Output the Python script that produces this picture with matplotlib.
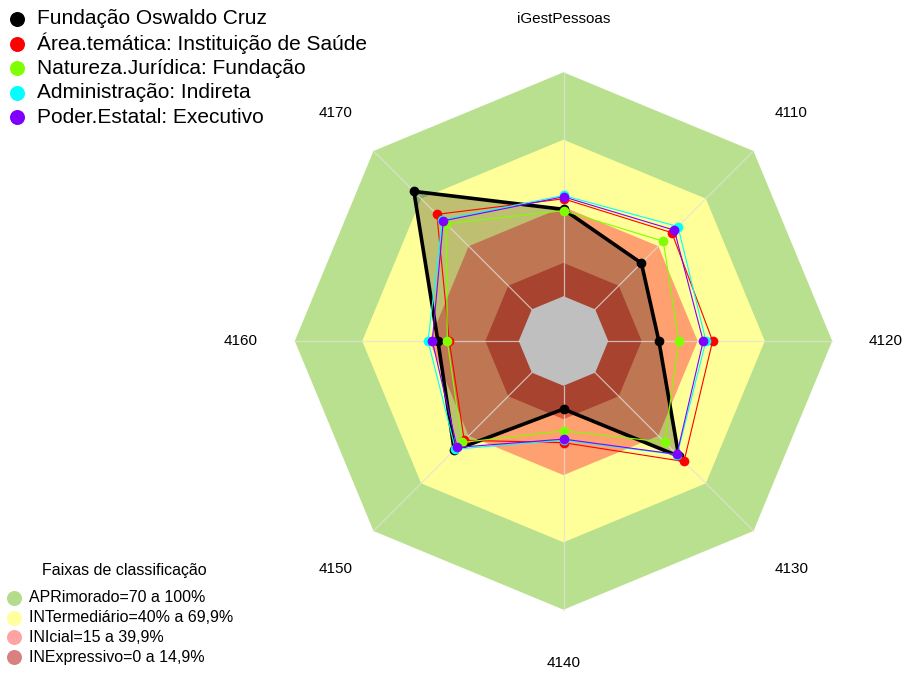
"""
Radar chart iGestPessoas with classification bands
"""
import numpy as np
import matplotlib
matplotlib.use("Agg")
import matplotlib.pyplot as plt

plt.rcParams['font.family'] = ['Liberation Sans', 'DejaVu Sans']

# axes, clockwise from the top
eixos = ['iGestPessoas', '4110', '4120', '4130', '4140', '4150', '4160', '4170']

# series values (%)
fiocruz = [38.8, 29.2, 22.6, 52.8, 10.4, 49.0, 36.1, 74.5]
area_tematica = [43.5, 48.4, 46.6, 56.1, 25.4, 42.7, 31.0, 60.0]
natureza = [38.2, 43.0, 31.5, 43.9, 20.1, 44.1, 31.9, 54.1]
administracao = [45.0, 52.3, 43.6, 51.8, 24.3, 48.3, 40.5, 56.5]
poder = [44.4, 50.0, 42.4, 51.6, 23.8, 47.2, 38.6, 55.9]

series_nomes = ['Fundação Oswaldo Cruz', 'Área.temática: Instituição de Saúde',
                'Natureza.Jurídica: Fundação', 'Administração: Indireta',
                'Poder.Estatal: Executivo']
series_cores = ['black', '#FF0000', '#80FF00', '#00FFFF', '#8000FF']

# classification bands (upper limits, %)
faixas_lim = [100, 69.9, 39.9, 14.9]
faixas_cores = ['#B9E08E', '#FFFF99', '#FFA070', '#E05A3E']
faixas_nomes = ['APRimorado=70 a 100%', 'INTermediário=40% a 69,9%',
                'INIcial=15 a 39,9%', 'INExpressivo=0 a 14,9%']
faixas_leg_cores = ['#B5DC8C', '#FFFFA0', '#FFA3A3', '#D98080']

W, H = 905, 673
CX, CY, R = 563.5, 341.0, 268.7
HOLE = 1 / 6.0

n = len(eixos)
ang = np.pi / 2 - np.arange(n) * 2 * np.pi / n


def rad(v):
    return HOLE + (1 - HOLE) * np.asarray(v, dtype=float) / 100.0


def xy(vals):
    r = rad(vals)
    x = r * np.cos(ang)
    y = r * np.sin(ang)
    return np.append(x, x[0]), np.append(y, y[0])


fig = plt.figure(figsize=(W / 100, H / 100), dpi=100)
ax = fig.add_axes([0, 0, 1, 1])
ax.set_xlim(-CX / R, (W - CX) / R)
ax.set_ylim(-(H - CY) / R, CY / R)
ax.set_aspect('equal')
ax.axis('off')

# bands
for lim, cor in zip(faixas_lim, faixas_cores):
    x, y = xy([lim] * n)
    ax.fill(x, y, color=cor, lw=0, zorder=1)
x, y = xy([0] * n)
ax.fill(x, y, color='white', lw=0, zorder=1)

# black series fill
x, y = xy(fiocruz)
ax.fill(x, y, color='black', alpha=0.25, lw=0, zorder=2)

# radial axis lines
for a in ang:
    ax.plot([HOLE * np.cos(a), np.cos(a)], [HOLE * np.sin(a), np.sin(a)],
            color='#E0E0E0', lw=0.9, alpha=0.75, zorder=3)

# axis labels
for a, lab in zip(ang, eixos):
    ax.text(1.2 * np.cos(a), 1.2 * np.sin(a), lab, ha='center', va='center',
            fontsize=11)

# series
dados = [fiocruz, area_tematica, natureza, administracao, poder]
for i, (vals, cor) in enumerate(zip(dados, series_cores)):
    x, y = xy(vals)
    lw = 2.6 if i == 0 else 0.8
    ax.plot(x, y, color=cor, lw=lw, zorder=4 + i)
    ax.plot(x[:-1], y[:-1], 'o', color=cor, ms=7, mec='none', zorder=4 + i)


def fx(px):
    return px / W


def fy(py):
    return 1 - py / H


# top legend
for k, (nome, cor) in enumerate(zip(series_nomes, series_cores)):
    yy = 19 + k * 24.6
    fig.lines.append(plt.Line2D([fx(17.3)], [fy(yy)], marker='o', color=cor,
                                ms=10.8, mec='none', transform=fig.transFigure))
    fig.text(fx(37), fy(yy), nome, fontsize=15, va='center', ha='left')

# bands legend
fig.text(fx(124), fy(571), 'Faixas de classificação', fontsize=11.5,
         ha='center', va='center')
for k, (nome, cor) in enumerate(zip(faixas_nomes, faixas_leg_cores)):
    yy = 597.7 + k * 19.8
    fig.lines.append(plt.Line2D([fx(14)], [fy(yy)], marker='o', color=cor,
                                ms=10.8, mec='none', transform=fig.transFigure))
    fig.text(fx(29.3), fy(yy), nome, fontsize=11.5, va='center', ha='left')

fig.savefig('out.png', dpi=100)
